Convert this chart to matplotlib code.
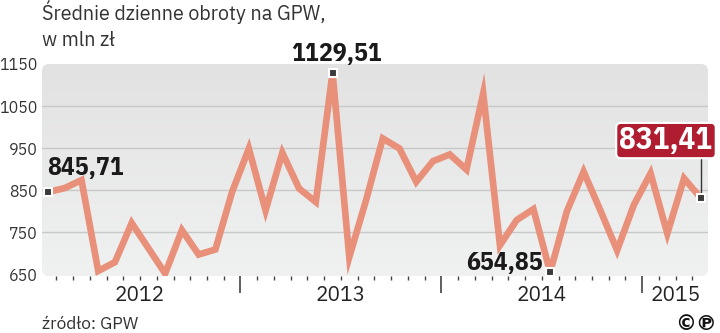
import matplotlib
matplotlib.use("Agg")
import matplotlib.pyplot as plt
from matplotlib.patches import FancyBboxPatch
from matplotlib.colors import LinearSegmentedColormap
import numpy as np

# ---- data ----
values = [845.71, 855, 874, 658, 679, 772, 712, 652, 755, 697, 709, 846,
          949, 802, 939, 854, 822, 1129.51, 691, 826, 973, 949, 870, 919,
          935, 899, 1080, 719, 779, 805, 654.85, 800, 894, 802, 707, 815,
          890, 747, 878, 831.41]
years = ["2012", "2013", "2014", "2015"]
year_centers = [5.5, 17.5, 29.5, 37.5]
year_bounds = [11.5, 23.5, 35.5]
yticks = [650, 750, 850, 950, 1050, 1150]
grid_vals = [750, 850, 950, 1050]
labels_idx = [0, 17, 30, 39]
labels_txt = ["845,71", "1129,51", "654,85", "831,41"]

PLEX = "IBM Plex Sans"
COND = "IBM Plex Sans Condensed"

W, H = 720, 333
fig = plt.figure(figsize=(7.2, 3.33), dpi=100)
fig.patch.set_facecolor("white")

ax = fig.add_axes([42 / W, 1 - 276 / H, (708 - 42) / W, (276 - 64) / H])
XL, YL = (-0.358, 39.43), (646, 1150)
for s in ax.spines.values():
    s.set_visible(False)
ax.patch.set_visible(False)

# gradient background with rounded corners
bg = FancyBboxPatch((0.42, 0.57), 6.66, 2.12,
                    boxstyle="round,pad=0,rounding_size=0.07",
                    transform=fig.dpi_scale_trans, facecolor="none",
                    edgecolor="none")
fig.add_artist(bg)
grad = np.linspace(0, 1, 256).reshape(-1, 1)
cmap = LinearSegmentedColormap.from_list("g", ["#f0f1f1", "#e2e2e2"])
im = ax.imshow(grad, extent=[XL[0], XL[1], YL[1], YL[0]], aspect="auto",
               cmap=cmap, zorder=0, origin="upper")
im.set_clip_path(bg)
ax.set_xlim(*XL)
ax.set_ylim(*YL)

for g in grid_vals:
    ax.axhline(g, color="#c8c8c8", lw=1.0, zorder=1)

x = np.arange(len(values))
ax.plot(x, values, color="#e8907a", lw=4.8, solid_joinstyle="miter",
        solid_capstyle="butt", zorder=3)

# y ticks
ax.set_yticks(yticks)
ax.set_yticklabels([str(v) for v in yticks])
ax.tick_params(axis="y", length=0, pad=3, labelsize=11.5, labelcolor="#333333")
for t in ax.get_yticklabels():
    t.set_family(PLEX)
    t.set_fontweight("light")

# x ticks
minor = [i + 0.5 for i in range(39) if (i + 0.5) not in year_bounds]
ax.set_xticks(year_bounds)
ax.set_xticklabels([])
ax.set_xticks(minor, minor=True)
ax.tick_params(axis="x", which="major", length=12, width=1.2, color="#444444",
               direction="out", pad=0)
ax.tick_params(axis="x", which="minor", length=3, width=1.0, color="#444444",
               direction="out")

for yr, c in zip(years, year_centers):
    ax.text(c, -0.09, yr, transform=ax.get_xaxis_transform(), ha="center",
            va="center", fontsize=15, family=PLEX, fontweight="medium",
            color="#222222")

# connector for last label
ax.plot([39, 39], [831.41, 924], color="#333333", lw=1.0, zorder=4)

# markers
ax.plot([x[i] for i in labels_idx], [values[i] for i in labels_idx], ls="none",
        marker="s", ms=5.5, mfc="#3a3a3a", mec="white", mew=1.5, zorder=5,
        clip_on=False)

# value labels
ax.text(-0.05, 886, labels_txt[0], ha="left", va="baseline", fontsize=18.5,
        family=COND, fontweight="bold", color="#1a1a1a", zorder=6)
ax.text(17.23, 1157, labels_txt[1], ha="center", va="baseline", fontsize=18.5,
        family=COND, fontweight="bold", color="#1a1a1a", zorder=6,
        clip_on=False)
ax.text(29.57, 660, labels_txt[2], ha="right", va="baseline", fontsize=18.5,
        family=COND, fontweight="bold", color="#1a1a1a", zorder=6)
ax.text(36.92, 968, labels_txt[3], ha="center", va="center", fontsize=22.5,
        family=COND, fontweight="bold", color="white", zorder=7,
        clip_on=False,
        bbox=dict(boxstyle="round,pad=0.1,rounding_size=0.15", fc="#b01d31",
                  ec="white", lw=1.5))

# title and source
fig.text(42 / W, 1 - 20 / H, "Średnie dzienne obroty na GPW,", ha="left",
         va="baseline", fontsize=14.2, family=PLEX, fontweight="light",
         color="#333333")
fig.text(42 / W, 1 - 46.5 / H, "w mln zł", ha="left", va="baseline",
         fontsize=14.2, family=PLEX, fontweight="light", color="#333333")
fig.text(42 / W, 1 - 329 / H, "źródło: GPW", ha="left", va="baseline",
         fontsize=12.5, family=PLEX, fontweight="light", color="#333333")
fig.text(717 / W, 1 - 330 / H, "©℗", ha="right", va="baseline",
         fontsize=15, family="DejaVu Sans", fontweight="bold", color="#111111")

fig.savefig("out.png", dpi=100)
